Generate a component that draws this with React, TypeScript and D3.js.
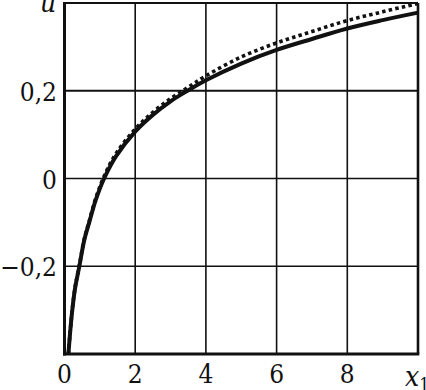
import React from "react";
import * as d3 from "d3";

const width = 426;
const height = 390;
const margin = { top: 3, right: 8, bottom: 36, left: 64.5 };

// values
const solidX = [0.11, 0.16, 0.22, 0.3, 0.42, 0.56, 0.7, 0.88, 1.12, 1.45, 2.0, 2.5, 3.0, 3.5, 4.0, 5.0, 6.0, 7.0, 8.0, 9.0, 10.0];
const solidU = [-0.4, -0.35, -0.3, -0.25, -0.2, -0.14, -0.1, -0.05, 0.0, 0.05, 0.107, 0.145, 0.176, 0.201, 0.224, 0.262, 0.293, 0.318, 0.342, 0.361, 0.378];
const dottedX = [0.11, 0.16, 0.22, 0.3, 0.42, 0.56, 0.7, 0.88, 1.12, 1.45, 2.0, 2.5, 3.0, 3.5, 4.0, 5.0, 6.0, 7.0, 8.0, 9.0, 10.0];
const dottedU = [-0.4, -0.35, -0.299, -0.248, -0.198, -0.138, -0.097, -0.046, 0.005, 0.056, 0.113, 0.151, 0.182, 0.208, 0.234, 0.277, 0.309, 0.335, 0.36, 0.38, 0.399];

const xTicks = [0, 2, 4, 6, 8];
const yTicks = [-0.2, 0, 0.2];
const xGrid = [2, 4, 6, 8];
const yGrid = [-0.2, 0, 0.2];

const fmt = (v: number) => (v < 0 ? "\u2212" : "") + String(Math.abs(v)).replace(".", ",");

const font = "'DejaVu Serif Condensed', 'DejaVu Serif', serif";

export default function App() {
  const x = d3.scaleLinear().domain([0, 10]).range([margin.left, width - margin.right]);
  const y = d3.scaleLinear().domain([-0.4, 0.4]).range([height - margin.bottom, margin.top]);

  const line = d3
    .line<[number, number]>()
    .x(d => x(d[0]))
    .y(d => y(d[1]))
    .curve(d3.curveCatmullRom.alpha(0.5));

  const solid = line(solidX.map((v, i) => [v, solidU[i]] as [number, number])) || "";
  const dotted = line(dottedX.map((v, i) => [v, dottedU[i]] as [number, number])) || "";

  return (
    <svg
      width={width}
      height={height}
      style={{ position: "absolute", left: 0, top: 0, background: "#fff", fontFamily: font, fontStretch: "condensed" }}
    >
      {/* grid */}
      {xGrid.map(v => (
        <line key={"gx" + v} x1={x(v)} x2={x(v)} y1={y(-0.4)} y2={y(0.4)} stroke="#111" strokeWidth={1.6} />
      ))}
      {yGrid.map(v => (
        <line key={"gy" + v} x1={x(0)} x2={x(10)} y1={y(v)} y2={y(v)} stroke="#111" strokeWidth={v === 0.2 ? 2 : 1.6} />
      ))}

      {/* curves */}
      <path d={dotted} fill="none" stroke="#111" strokeWidth={3.6} strokeDasharray="3.5 3.2" />
      <path d={solid} fill="none" stroke="#111" strokeWidth={4} />

      {/* frame */}
      <line x1={x(0)} x2={x(10)} y1={y(0.4)} y2={y(0.4)} stroke="#111" strokeWidth={2.2} />
      <line x1={x(10)} x2={x(10)} y1={y(0.4)} y2={y(-0.4)} stroke="#111" strokeWidth={2.6} />
      <line x1={x(0)} x2={x(0)} y1={y(0.4) - 1} y2={y(-0.4) + 1.5} stroke="#111" strokeWidth={3} />
      <line x1={x(0) - 1.5} x2={x(10) + 1.3} y1={y(-0.4)} y2={y(-0.4)} stroke="#111" strokeWidth={3} />

      {/* tick labels */}
      {xTicks.map(v => (
        <text key={"tx" + v} x={x(v)} y={383} textAnchor="middle" fontSize={26} fill="#111">
          {fmt(v)}
        </text>
      ))}
      {yTicks.map(v => (
        <text key={"ty" + v} x={57} y={y(v) + 10} textAnchor="end" fontSize={26} fill="#111">
          {fmt(v)}
        </text>
      ))}

      {/* axis titles */}
      <text x={40} y={12} fontSize={28} fontStyle="italic" fill="#111">u</text>
      <text x={405} y={386} fontSize={28} fontStyle="italic" fill="#111">
        x<tspan fontSize={18} fontStyle="normal" dy={5}>1</tspan>
      </text>
    </svg>
  );
}
